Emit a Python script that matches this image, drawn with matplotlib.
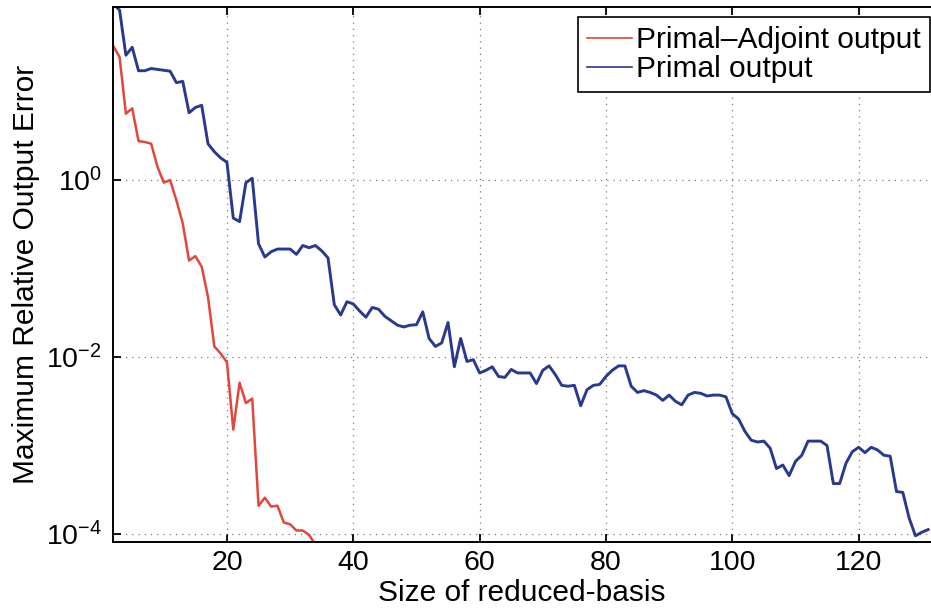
import numpy as np
import matplotlib.pyplot as plt
from matplotlib.ticker import FixedLocator, LogFormatterSciNotation, NullLocator

plt.rcParams['font.family'] = ['Liberation Sans', 'DejaVu Sans']

# basis sizes and log10 of the max relative output error
n_primal = list(range(2, 132))
primal_log10 = [
    1.99, 1.92, 1.41, 1.50, 1.235, 1.235, 1.26, 1.25, 1.24, 1.23,      # 2-11
    1.10, 1.115, 0.76, 0.82, 0.844, 0.41, 0.32, 0.25, 0.20, -0.43,     # 12-21
    -0.47, -0.03, 0.02, -0.72, -0.87, -0.81, -0.78, -0.78, -0.78, -0.84,  # 22-31
    -0.74, -0.765, -0.74, -0.80, -0.88, -1.41, -1.525, -1.375, -1.40, -1.48,  # 32-41
    -1.55, -1.44, -1.46, -1.54, -1.59, -1.64, -1.66, -1.64, -1.635, -1.49,  # 42-51
    -1.79, -1.88, -1.84, -1.61, -2.11, -1.79, -2.05, -2.03, -2.18, -2.15,  # 52-61
    -2.11, -2.22, -2.23, -2.14, -2.18, -2.18, -2.18, -2.30, -2.15, -2.10,  # 62-71
    -2.20, -2.32, -2.33, -2.32, -2.55, -2.37, -2.32, -2.31, -2.22, -2.15,  # 72-81
    -2.10, -2.10, -2.33, -2.40, -2.38, -2.40, -2.43, -2.49, -2.43, -2.50,  # 82-91
    -2.54, -2.43, -2.40, -2.41, -2.44, -2.43, -2.43, -2.45, -2.64, -2.70,  # 92-101
    -2.84, -2.94, -2.96, -2.95, -3.03, -3.26, -3.22, -3.34, -3.18, -3.11,  # 102-111
    -2.95, -2.95, -2.95, -3.00, -3.43, -3.43, -3.20, -3.07, -3.02, -3.08,  # 112-121
    -3.02, -3.05, -3.11, -3.12, -3.52, -3.53, -3.82, -4.02, -3.98, -3.95,  # 122-131
]

n_adjoint = list(range(2, 35))
adjoint_log10 = [
    1.514, 1.39, 0.75, 0.81, 0.44, 0.43, 0.41, 0.15, -0.03, 0.0,       # 2-11
    -0.23, -0.49, -0.91, -0.86, -0.98, -1.32, -1.88, -1.96, -2.06, -2.82,  # 12-21
    -2.29, -2.52, -2.47, -3.68, -3.59, -3.69, -3.68, -3.87, -3.89, -3.96,  # 22-31
    -3.96, -4.01, -4.12,                                                # 32-34
]

y_ticks = [1e-4, 1e-2, 1e0]
x_ticks = [20, 40, 60, 80, 100, 120]

fig = plt.figure(figsize=(9.31, 6.11), dpi=100)
ax = fig.add_axes([113/931, 69/611, 1 - 113/931, (542 - 7)/611])

ax.semilogy(n_adjoint, 10.0**np.array(adjoint_log10), color='#e2463c',
            lw=1.8, label='Primal\u2013Adjoint output')
ax.semilogy(n_primal, 10.0**np.array(primal_log10), color='#2a3990',
            lw=2.1, label='Primal output')

ax.set_xlim(1.96, 131.46)
ax.set_ylim(10**-4.09, 10**1.955)

ax.xaxis.set_major_locator(FixedLocator(x_ticks))
ax.yaxis.set_major_locator(FixedLocator(y_ticks))
ax.yaxis.set_major_formatter(LogFormatterSciNotation())
ax.yaxis.set_minor_locator(NullLocator())

ax.grid(True, which='major', color='#7a7a7a', lw=0.9, ls=(0, (1, 4)))
ax.tick_params(direction='in', length=6, width=1.3, labelsize=20.5,
               top=True, right=False, pad=8)
ax.tick_params(axis='x', pad=6)
for side in ['left', 'bottom', 'top']:
    ax.spines[side].set_linewidth(1.4)
ax.spines['right'].set_visible(False)

ax.set_xlabel('Size of reduced-basis', fontsize=21.5, labelpad=2)
ax.set_ylabel('Maximum Relative Output Error', fontsize=21.5, labelpad=4)

leg = ax.legend(loc='upper right', bbox_to_anchor=(930/931, 1 - 17/611),
                bbox_transform=fig.transFigure, borderaxespad=0,
                fontsize=21.5, handlelength=1.5, handletextpad=0.16,
                borderpad=0.3, labelspacing=0.05, fancybox=False,
                framealpha=1, edgecolor='black')
leg.get_frame().set_linewidth(1.2)
for line in leg.get_lines():
    line.set_linewidth(1.2)

fig.savefig('out.png', dpi=100)
